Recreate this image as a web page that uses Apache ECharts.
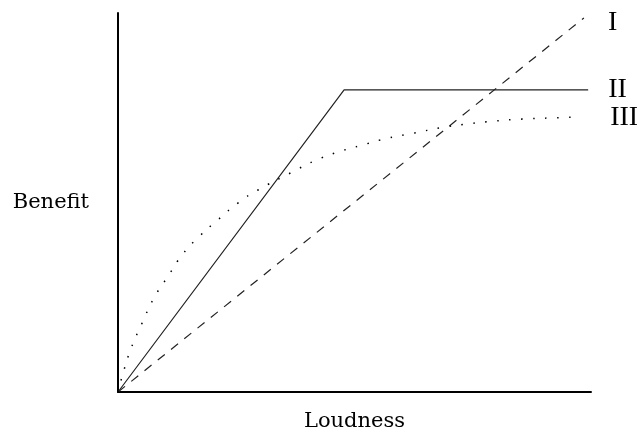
<!DOCTYPE html>
<html>
<head>
<meta charset="utf-8">
<script src="https://cdn.jsdelivr.net/npm/echarts@6/dist/echarts.min.js"></script>
<style>
  html, body { margin: 0; padding: 0; background: #fff; }
  #chart { width: 637px; height: 438px; }
</style>
</head>
<body>
<div id="chart"></div>
<script>
// names shown at the right end of each curve
const seriesNames = ["I", "II", "III"];

// I: straight dashed line
const lineI = [[0, 0], [98.5, 98.7]];

// II: solid, rises then flat
const lineII = [[0, 0], [47.8, 79.7], [99.4, 79.7]];

// III: dotted, concave curve
const lineIII = [
  [0, 0], [0.85, 4.0], [2.7, 11.3], [5.1, 18.2], [7.6, 24.8], [10.6, 30.6],
  [13.7, 36.4], [17.3, 41.2], [21.1, 45.4], [25.4, 49.9], [29.6, 53.3],
  [36.8, 58.0], [41.4, 60.9], [46.5, 63.3], [51.8, 65.2], [57.1, 67.0],
  [62.6, 68.3], [68.1, 69.7], [73.8, 70.7], [79.7, 71.5], [85.4, 72.0],
  [91.3, 72.3], [97.5, 72.6]
];

let myChart = echarts.init(document.getElementById("chart"));

const labelFont = {
  fontFamily: "Liberation Serif",
  fontSize: 28,
  color: "#000",
};

myChart.setOption({
  animation: false,
  grid: { left: 118, right: 46, top: 13, bottom: 46, outerBoundsMode: "none", containLabel: false },
  xAxis: {
    type: "value",
    min: 0,
    max: 100,
    name: "Loudness",
    nameLocation: "middle",
    nameGap: 19,
    nameTextStyle: { fontFamily: "DejaVu Serif", fontSize: 21, color: "#000" },
    axisLine: { lineStyle: { color: "#000", width: 2 } },
    axisTick: { show: false },
    axisLabel: { show: false },
    splitLine: { show: false },
  },
  yAxis: {
    type: "value",
    min: 0,
    max: 100,
    name: "Benefit",
    nameLocation: "middle",
    nameRotate: 0,
    nameGap: 29,
    nameTextStyle: { fontFamily: "DejaVu Serif", fontSize: 21, color: "#000" },
    axisLine: { lineStyle: { color: "#000", width: 2 } },
    axisTick: { show: false },
    axisLabel: { show: false },
    splitLine: { show: false },
  },
  series: [
    {
      name: seriesNames[0],
      type: "line",
      data: lineI,
      showSymbol: false,
      lineStyle: { color: "#222", width: 1.2, type: [9, 8] },
      endLabel: {
        show: true,
        formatter: "{a}",
        distance: 24,
        offset: [0, 5],
        ...labelFont,
      },
    },
    {
      name: seriesNames[1],
      type: "line",
      data: lineII,
      showSymbol: false,
      lineStyle: { color: "#222", width: 1.2, type: "solid" },
      endLabel: {
        show: true,
        formatter: "{a}",
        distance: 20,
        offset: [0, 0],
        ...labelFont,
      },
    },
    {
      name: seriesNames[2],
      type: "line",
      data: lineIII,
      smooth: true,
      showSymbol: false,
      lineStyle: { color: "#000", width: 1.5, type: [1.5, 10.5] },
      endLabel: {
        show: true,
        formatter: "{a}",
        distance: 31,
        offset: [0, 1],
        ...labelFont,
      },
    },
  ],
});
</script>
</body>
</html>
